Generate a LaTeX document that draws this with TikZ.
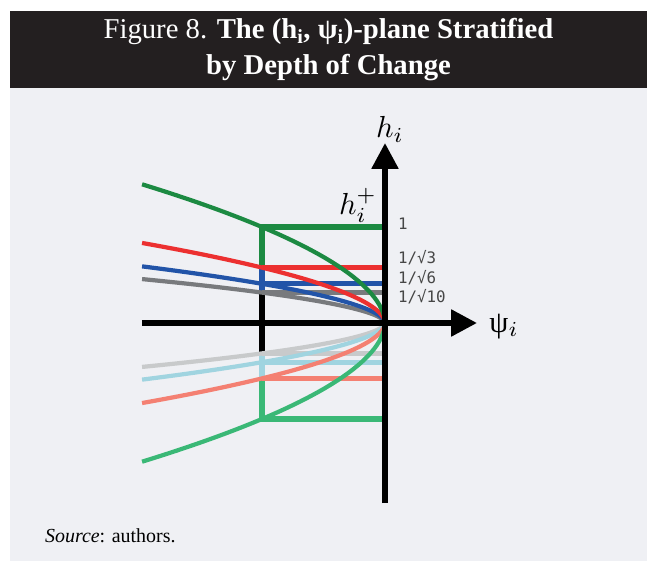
\documentclass[tikz,border=0pt]{standalone}
\usepackage{amsmath}
\usepackage{graphicx}
\usepackage{fontspec}
\setmainfont{Liberation Serif}
\newfontfamily\tickfont{DejaVu Sans Mono}
\usetikzlibrary{arrows.meta,positioning}
\definecolor{bandblack}{RGB}{35,31,32}
\definecolor{panelgray}{RGB}{239,240,244}
\definecolor{tickgray}{RGB}{70,70,70}
\definecolor{upgreen}{RGB}{28,138,66}
\definecolor{upred}{RGB}{236,48,48}
\definecolor{upblue}{RGB}{34,84,168}
\definecolor{upgray}{RGB}{120,122,125}
\definecolor{lowgray}{RGB}{200,202,203}
\definecolor{lowblue}{RGB}{160,212,224}
\definecolor{lowsalmon}{RGB}{244,128,114}
\definecolor{lowgreen}{RGB}{58,184,118}
\newcommand{\biglab}[1]{\scalebox{2.6}{#1}}

\begin{document}
\begin{tikzpicture}[x=0.03cm,y=0.03cm,
    axis/.style={line width=4.8pt,black},
    level/.style={line width=4.5pt},
    curve/.style={line width=3.6pt},
    tick/.style={anchor=west,text=tickgray,font=\tickfont\fontsize{13.5}{15}\selectfont}]
  \useasboundingbox (-385,-238) rectangle (262,323);
  \fill[white] (-385,-238) rectangle (262,323);
  \fill[panelgray] (-375,-238) rectangle (262,235);
  \fill[bandblack] (-375,235) rectangle (262,312);
  \node[text=white,align=center,font=\fontsize{24.5}{30}\selectfont] (title) at (-56.5,273.5)
    {Figure 8. \textbf{The (h$_{\text{i}}$, ψ$_{\text{i}}$)-plane Stratified}\\
     \textbf{by Depth of Change}};

  \coordinate (O) at (0,0);
  \coordinate (ytop) at (0,180);
  \coordinate (ybot) at (0,-180);
  \coordinate (xleft) at (-243,0);
  \coordinate (xright) at (92,0);

  % boxes at the levels 1, 1/sqrt3, 1/sqrt6, 1/sqrt10
  \draw[line width=5pt] (-123,30.4) -- (-123,-30.4);
  \draw[level,upgreen,line join=miter] (-123,55.4) -- (-123,96) -- (0,96);
  \draw[level,upblue] (-123,55.4) -- (-123,30.4);
  \draw[level,upblue] (-123,39.2) -- (0,39.2);
  \draw[level,upred] (-123,55.4) -- (0,55.4);
  \draw[level,upgray] (-123,30.4) -- (0,30.4);
  \draw[level,lowblue] (-123,-30.4) -- (-123,-55.4);
  \draw[level,lowblue] (-123,-39.2) -- (0,-39.2);
  \draw[level,lowgray] (-123,-30.4) -- (0,-30.4);
  \draw[level,lowgreen,line join=miter] (-123,-55.4) -- (-123,-96) -- (0,-96);
  \draw[level,lowsalmon] (-123,-55.4) -- (0,-55.4);

  % curves through the corners
  \foreach \lev/\col in {30.4/upgray,39.2/upblue,55.4/upred,96/upgreen}
    \draw[curve,\col] (O) -- plot[domain=0.01:1.445,samples=40]
      ({-123*pow(\x,1.85)},{\lev*\x});
  \foreach \lev/\col in {30.4/lowgray,39.2/lowblue,55.4/lowsalmon,96/lowgreen}
    \draw[curve,\col] (O) -- plot[domain=0.01:1.445,samples=40]
      ({-123*pow(\x,1.85)},{-\lev*\x});

  \draw[axis,-{Triangle[width=22pt,length=22pt]}] (xleft) -- (xright);
  \draw[axis,-{Triangle[width=22pt,length=22pt]}] (ybot) -- (ytop);
  \node[above=-3pt of ytop,xshift=1.5mm] (hlab) {\biglab{$h_i$}};
  \node[right=0.25cm of xright,yshift=-1mm] (psilab) {\biglab{ψ$_i$}};
  \node[anchor=south east] (hplus) at (-4,96) {\biglab{$h_i^+$}};

  \node[tick] (t1) at (9,99) {1};
  \node[tick] (t3) at (9,65) {1/√3};
  \node[tick] (t6) at (9,45) {1/√6};
  \node[tick] (t10) at (9,26) {1/√10};

  \node[anchor=west,font=\fontsize{17}{20}\selectfont] (src) at (-344,-213)
    {\textit{Source}: authors.};
\end{tikzpicture}
\end{document}
